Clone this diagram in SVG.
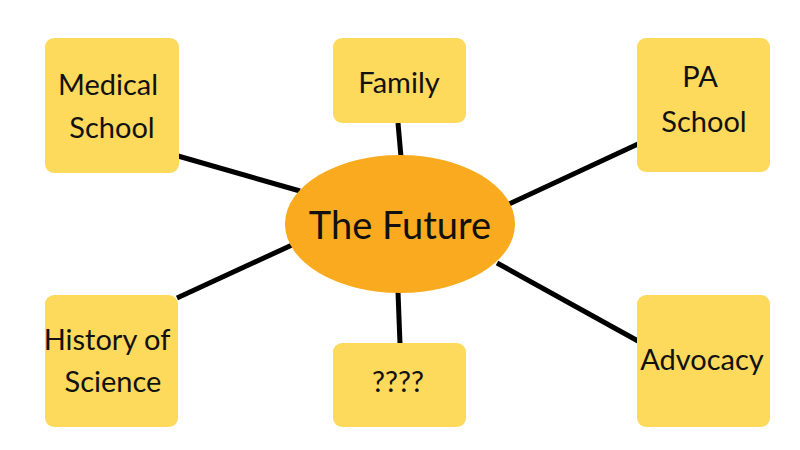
<svg xmlns="http://www.w3.org/2000/svg" width="800" height="450" viewBox="0 0 800 450">
<style>
.box{fill:#FDD95C}
.t{font-family:Lato,"Liberation Sans",sans-serif;font-size:29px;fill:#111;text-anchor:middle}
.c{stroke:#000;stroke-width:5;stroke-linecap:butt}
</style>
<rect width="800" height="450" fill="#fff"/>
<g id="connectors">
<line class="c" x1="178" y1="156" x2="300" y2="191"/>
<line class="c" x1="398" y1="123" x2="401" y2="157"/>
<line class="c" x1="638" y1="144" x2="509" y2="204"/>
<line class="c" x1="177" y1="298" x2="292" y2="245"/>
<line class="c" x1="398" y1="292" x2="400" y2="344"/>
<line class="c" x1="497" y1="263" x2="638" y2="341"/>
</g>
<g id="medical-school">
<rect class="box" x="45" y="38" width="134" height="135" rx="9"/>
<text class="t" x="108" y="95">Medical</text>
<text class="t" x="112" y="138">School</text>
</g>
<g id="family">
<rect class="box" x="333" y="38" width="133" height="85" rx="9"/>
<text class="t" x="399" y="93">Family</text>
</g>
<g id="pa-school">
<rect class="box" x="637" y="38" width="133" height="134" rx="9"/>
<text class="t" x="700" y="87">PA</text>
<text class="t" x="704" y="132">School</text>
</g>
<g id="history-of-science">
<rect class="box" x="45" y="295" width="133" height="132" rx="9"/>
<text class="t" x="107" y="350">History of</text>
<text class="t" x="113" y="392">Science</text>
</g>
<g id="unknown">
<rect class="box" x="333" y="343" width="133" height="84" rx="9"/>
<text class="t" x="398" y="392">????</text>
</g>
<g id="advocacy">
<rect class="box" x="637" y="295" width="133" height="132" rx="9"/>
<text class="t" x="702" y="370">Advocacy</text>
</g>
<g id="the-future">
<ellipse cx="400" cy="224" rx="115" ry="69" fill="#F9AA1E"/>
<text class="t" x="400" y="239" style="font-size:38px">The Future</text>
</g>
</svg>
